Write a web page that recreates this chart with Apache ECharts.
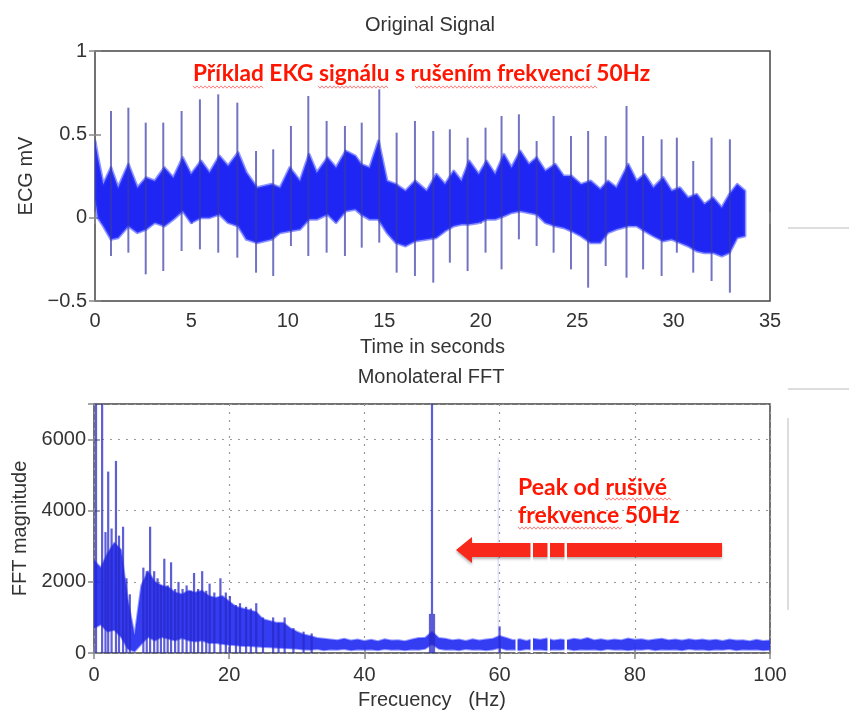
<!DOCTYPE html>
<html><head><meta charset="utf-8">
<script src="https://cdn.jsdelivr.net/npm/echarts@6/dist/echarts.min.js"></script>
<style>html,body{margin:0;padding:0;background:#fff}#c{width:849px;height:715px}</style>
</head><body><div id="c"></div>
<script>
// ---------- ECG (top) : noise band envelope ----------
const ecgTime = [0,0.15,0.43,0.83,1.2,1.73,2.2,2.65,3.1,3.6,4.06,4.55,4.98,5.5,5.94,6.45,6.9,7.42,7.85,8.4,9.16,9.6,10.1,10.63,11.1,11.5,12.06,12.5,13.0,13.5,13.8,14.24,14.7,15.14,15.6,16.1,16.6,17.2,17.7,18.15,18.6,19.0,19.4,19.9,20.3,20.75,21.2,21.6,22.05,22.5,22.9,23.35,23.87,24.3,24.7,25.2,25.7,26.2,26.6,27.04,27.65,28.08,28.5,28.95,29.46,29.9,30.33,30.75,31.2,31.6,32.05,32.5,32.9,33.3,33.7];
const ecgUpper = [0.46,0.36,0.20,0.30,0.18,0.32,0.18,0.24,0.22,0.30,0.24,0.36,0.26,0.34,0.27,0.37,0.31,0.39,0.27,0.18,0.20,0.18,0.30,0.22,0.38,0.27,0.36,0.30,0.40,0.37,0.32,0.30,0.46,0.22,0.20,0.16,0.22,0.16,0.26,0.20,0.28,0.22,0.34,0.26,0.34,0.26,0.38,0.30,0.40,0.32,0.36,0.28,0.32,0.25,0.25,0.20,0.22,0.17,0.22,0.18,0.32,0.22,0.26,0.18,0.24,0.16,0.18,0.12,0.14,0.08,0.12,0.06,0.14,0.20,0.16];
const ecgLower = [0.12,0.00,-0.05,-0.13,-0.12,-0.05,-0.09,-0.07,-0.03,-0.05,-0.01,0.04,-0.03,0.00,0.00,0.02,-0.03,-0.05,-0.13,-0.15,-0.13,-0.09,-0.08,-0.07,-0.01,-0.01,0.02,-0.03,0.04,0.05,0.02,-0.01,-0.01,-0.09,-0.15,-0.17,-0.14,-0.13,-0.12,-0.08,-0.05,-0.04,-0.04,-0.03,-0.01,-0.01,0.01,0.03,0.04,0.03,0.02,-0.03,-0.05,-0.06,-0.08,-0.11,-0.15,-0.15,-0.09,-0.07,-0.05,-0.05,-0.08,-0.11,-0.14,-0.13,-0.15,-0.17,-0.20,-0.21,-0.21,-0.23,-0.21,-0.12,-0.11];
// ---------- ECG beats (QRS spikes) ----------
const beatTime   = [0.83,1.73,2.63,3.54,4.49,5.44,6.39,7.38,8.35,9.24,10.16,11.06,12.01,12.96,13.83,14.74,15.64,16.59,17.54,18.40,19.32,20.25,21.08,21.98,22.90,23.78,24.68,25.57,26.48,27.56,28.42,29.38,30.17,31.02,31.97,32.92];
const beatPeak   = [0.64,0.66,0.57,0.57,0.64,0.71,0.74,0.69,0.40,0.41,0.55,0.73,0.58,0.55,0.57,0.77,0.51,0.58,0.52,0.53,0.48,0.54,0.61,0.62,0.46,0.61,0.49,0.52,0.49,0.67,0.49,0.47,0.48,0.34,0.48,0.47];
const beatTrough = [-0.23,-0.21,-0.34,-0.32,-0.20,-0.19,-0.21,-0.24,-0.33,-0.35,-0.17,-0.23,-0.21,-0.23,-0.18,-0.15,-0.33,-0.35,-0.39,-0.27,-0.32,-0.21,-0.31,-0.13,-0.17,-0.21,-0.31,-0.42,-0.29,-0.36,-0.31,-0.35,-0.21,-0.33,-0.38,-0.45];

// ---------- FFT (bottom) : dense band envelope ----------
const fftFreq = [0,1,2,3,4,5,6,7,8,9,10,11,12,13,14,15,16,17,18,19,20,21,22,23,24,25,26,27,28,29,30,31,32,33,34,35,36,37,38,39,40,41,42,43,44,45,46,47,48,49,50,51,52,53,54,55,56,57,58,59,60,61,62,63,64,65,66,67,68,69,70,71,72,73,74,75,76,77,78,79,80,81,82,83,84,85,86,87,88,89,90,91,92,93,94,95,96,97,98,99,100];
const fftUpper = [2600,2400,2800,3100,2900,1500,500,1900,2300,2000,1900,1850,1700,1650,1750,1700,1750,1600,1550,1600,1450,1300,1250,1200,1150,950,900,850,850,700,600,520,480,420,400,380,360,400,350,380,340,370,330,390,350,360,330,380,420,430,600,420,400,360,380,340,390,350,380,400,480,420,360,390,340,400,370,410,350,380,360,400,370,420,360,390,350,380,360,410,370,390,350,380,400,360,380,350,390,360,380,350,370,340,380,350,360,330,370,340,350];
const fftLower = [700,800,600,650,450,120,40,250,450,350,450,400,350,420,350,320,350,280,280,250,230,220,200,200,180,170,160,150,140,130,120,100,90,110,80,100,90,110,80,100,90,100,80,110,90,100,80,100,90,120,250,120,90,100,80,110,90,100,80,100,150,90,100,80,110,90,100,80,100,90,110,80,100,90,100,80,110,90,100,80,100,90,110,80,100,90,100,80,110,90,100,80,100,90,110,80,100,90,100,80,90];
// ---------- FFT spikes ----------
const fftSpikeFreq = [0.3,1.2,1.7,2.1,2.6,3.25,3.7,4.3,4.8,5.3,7.3,7.8,8.3,8.9,9.4,9.9,10.4,10.9,11.4,12.0,12.5,13.1,13.7,14.3,14.8,15.4,16.0,16.6,17.1,17.8,18.7,19.5,20.1,21.0,21.6,22.5,23.2,24.0,25.0,26.5,27.3,28.2,29.5,31.0,32.2,49.7,50.0,50.3,60.0];
const fftSpikeVal  = [7600,7600,3400,5100,3500,5400,3300,3550,2100,1650,2400,2300,3550,2300,2100,1900,2650,1900,2550,1800,2000,1800,1900,1750,2250,1800,2300,1750,1950,1700,2100,1700,1600,1350,1400,1300,1250,1400,1000,1000,850,1000,700,600,550,1100,7600,1100,750];
const fftFaintFreq = [59.8];
const fftFaintVal  = [5500];

const FONT = '"Liberation Sans", Arial, sans-serif';
const TXT = '#333';
const RED_FONT = 'Lato, "Open Sans", sans-serif';

function xAx(grid, min, max, interval, opts) {
  return Object.assign({
    type: 'value', gridIndex: grid, min, max, interval,
    axisLine: { show: false },
    axisTick: { show: true, inside: true, length: 6, lineStyle: { color: '#888', width: 1.5 } },
    axisLabel: { show: true, color: TXT, fontSize: 20, fontFamily: FONT, margin: 10 },
    splitLine: { show: false }
  }, opts);
}
function yAx(grid, min, max, interval, opts) {
  return Object.assign({
    type: 'value', gridIndex: grid, min, max, interval,
    axisLine: { show: false },
    axisTick: { show: true, inside: true, length: 6, lineStyle: { color: '#888', width: 1.5 } },
    axisLabel: { show: true, color: TXT, fontSize: 20, fontFamily: FONT, margin: 8 },
    splitLine: { show: false }
  }, opts);
}
const gridDots = { show: true, lineStyle: { color: '#9a9a9a', width: 1.2, type: [2, 6] } };

function spikeRender(color, width) {
  return function (params, api) {
    const x = api.value(0);
    const p0 = api.coord([x, api.value(2)]);
    const p1 = api.coord([x, api.value(1)]);
    return { type: 'line', shape: { x1: p0[0], y1: p0[1], x2: p1[0], y2: p1[1] },
             style: { stroke: color, lineWidth: width } };
  };
}
function bandRender(xs, up, lo, fill, stroke, sw) {
  return function (params, api) {
    if (params.dataIndex !== 0) return null;
    const pts = [];
    for (let i = 0; i < xs.length; i++) pts.push(api.coord([xs[i], up[i]]));
    for (let i = xs.length - 1; i >= 0; i--) pts.push(api.coord([xs[i], lo[i]]));
    return { type: 'polygon', shape: { points: pts },
             style: { fill: fill, stroke: stroke, lineWidth: sw, lineJoin: 'round' } };
  };
}
// red wavy spell-check underline (decoration)
function wavy(x1, x2, y) {
  const pts = [];
  for (let x = x1, k = 0; x <= x2; x += 2, k++) pts.push([x, y + (k % 2 ? 1.2 : -1.2)]);
  return { type: 'polyline', z: 10, shape: { points: pts }, style: { stroke: 'rgba(255,40,40,0.65)', lineWidth: 0.9, fill: null } };
}

const option = {
  animation: false,
  backgroundColor: '#fff',
  grid: [
    { left: 95, top: 51, width: 675, height: 250, show: true, borderColor: '#444', borderWidth: 1.5, backgroundColor: 'rgba(0,0,0,0)' },
    { left: 94, top: 404, width: 676, height: 249, show: true, borderColor: '#444', borderWidth: 1.5, backgroundColor: 'rgba(0,0,0,0)' }
  ],
  xAxis: [
    xAx(0, 0, 35, 5, { name: 'Time in seconds', nameLocation: 'middle', nameGap: 36,
      nameTextStyle: { color: TXT, fontSize: 20, fontFamily: FONT } }),
    xAx(0, 0, 35, 5, { position: 'top', axisLabel: { show: false } }),
    xAx(1, 0, 100, 20, { splitLine: gridDots, axisLabel: { show: true, color: TXT, fontSize: 20, fontFamily: FONT, margin: 12 },
      name: 'Frecuency   (Hz)', nameLocation: 'middle', nameGap: 37,
      nameTextStyle: { color: TXT, fontSize: 20, fontFamily: FONT } }),
    xAx(1, 0, 100, 20, { position: 'top', axisLabel: { show: false } })
  ],
  yAxis: [
    yAx(0, -0.5, 1, 0.5, { name: 'ECG mV', nameLocation: 'middle', nameGap: 58,
      nameTextStyle: { color: TXT, fontSize: 20, fontFamily: FONT },
      axisLabel: { show: true, color: TXT, fontSize: 20, fontFamily: FONT, margin: 8,
        formatter: v => (v < 0 ? '\u2212' + Math.abs(v) : String(v)) } }),
    yAx(0, -0.5, 1, 0.5, { position: 'right', axisLabel: { show: false } }),
    yAx(1, 0, 7000, 2000, { splitLine: gridDots, name: 'FFT magnitude', nameLocation: 'middle', nameGap: 62,
      nameTextStyle: { color: TXT, fontSize: 20, fontFamily: FONT },
      axisLabel: { show: true, color: TXT, fontSize: 20, fontFamily: FONT, margin: 8, showMaxLabel: false,
        formatter: v => (v === 7000 ? '' : String(v)) } }),
    yAx(1, 0, 7000, 2000, { position: 'right', axisLabel: { show: false } })
  ],
  series: [
    { type: 'custom', xAxisIndex: 0, yAxisIndex: 0, clip: true, z: 2,
      data: ecgTime.map((t, i) => [t, ecgUpper[i], ecgLower[i]]),
      encode: { x: 0, y: [1, 2] },
      renderItem: bandRender(ecgTime, ecgUpper, ecgLower, '#1f26f3', 'rgba(50,60,255,0.55)', 3) },
    { type: 'custom', xAxisIndex: 0, yAxisIndex: 0, clip: true, z: 3,
      data: beatTime.map((t, i) => [t, beatPeak[i], beatTrough[i]]),
      encode: { x: 0, y: [1, 2] },
      renderItem: spikeRender('rgba(55,55,170,0.7)', 2) },

    { type: 'custom', xAxisIndex: 2, yAxisIndex: 2, clip: true, z: 2,
      data: fftFreq.map((f, i) => [f, fftUpper[i], fftLower[i]]),
      encode: { x: 0, y: [1, 2] },
      renderItem: bandRender(fftFreq, fftUpper, fftLower, 'rgba(35,45,240,0.92)', 'rgba(50,60,255,0.5)', 2) },
    { type: 'custom', xAxisIndex: 2, yAxisIndex: 2, clip: true, z: 3,
      data: fftSpikeFreq.map((f, i) => [f, fftSpikeVal[i], 0]),
      encode: { x: 0, y: [1, 2] },
      renderItem: spikeRender('rgba(40,40,200,0.75)', 2.2) },
    { type: 'custom', xAxisIndex: 2, yAxisIndex: 2, clip: true, z: 1,
      data: fftFaintFreq.map((f, i) => [f, fftFaintVal[i], 0]),
      encode: { x: 0, y: [1, 2] },
      renderItem: spikeRender('rgba(120,120,255,0.25)', 1.2) }
  ],
  graphic: [
    { type: 'text', x: 430, y: 25, style: { text: 'Original Signal', fill: TXT, font: '20px ' + FONT, textAlign: 'center', textVerticalAlign: 'middle' } },
    { type: 'text', x: 431, y: 377, style: { text: 'Monolateral FFT', fill: TXT, font: '20px ' + FONT, textAlign: 'center', textVerticalAlign: 'middle' } },
    { type: 'text', x: 193, y: 74, z: 10, style: { text: 'Příklad EKG signálu s rušením frekvencí 50Hz', fill: '#ff1500', font: 'bold 22.7px ' + RED_FONT, textAlign: 'left', textVerticalAlign: 'middle' } },
    { type: 'text', x: 518, y: 488, z: 10, style: { text: 'Peak od rušivé', fill: '#ff1500', font: 'bold 23px ' + RED_FONT, textAlign: 'left', textVerticalAlign: 'middle' } },
    { type: 'text', x: 518, y: 516, z: 10, style: { text: 'frekvence 50Hz', fill: '#ff1500', font: 'bold 23px ' + RED_FONT, textAlign: 'left', textVerticalAlign: 'middle' } },
    wavy(193, 263, 87), wavy(318, 388, 87), wavy(415, 598, 87),
    wavy(605, 671, 499), wavy(518, 622, 528),
    { type: 'polygon', z: 10, shape: { points: [[456,550],[472,537],[472,543],[722,543],[722,557],[472,557],[472,563]] },
      style: { fill: '#f8281a', shadowBlur: 3, shadowColor: 'rgba(0,0,0,0.3)', shadowOffsetY: 2 } },
    { type: 'rect', z: 11, shape: { x: 530.5, y: 541, width: 2.5, height: 112 }, style: { fill: '#fff' } },
    { type: 'rect', z: 11, shape: { x: 547.5, y: 541, width: 2.5, height: 112 }, style: { fill: '#fff' } },
    { type: 'rect', z: 11, shape: { x: 564.5, y: 541, width: 2.5, height: 112 }, style: { fill: '#fff' } },
    { type: 'rect', z: 11, shape: { x: 515.5, y: 600, width: 2, height: 53 }, style: { fill: '#fff' } },
    { type: 'line', shape: { x1: 788, y1: 228, x2: 849, y2: 228 }, style: { stroke: '#bbb', lineWidth: 1 } },
    { type: 'line', shape: { x1: 788, y1: 389, x2: 849, y2: 389 }, style: { stroke: '#bbb', lineWidth: 1 } },
    { type: 'line', shape: { x1: 788, y1: 418, x2: 788, y2: 610 }, style: { stroke: '#bbb', lineWidth: 1 } }
  ]
};
const chart = echarts.init(document.getElementById('c'));
chart.setOption(option);
</script></body></html>
